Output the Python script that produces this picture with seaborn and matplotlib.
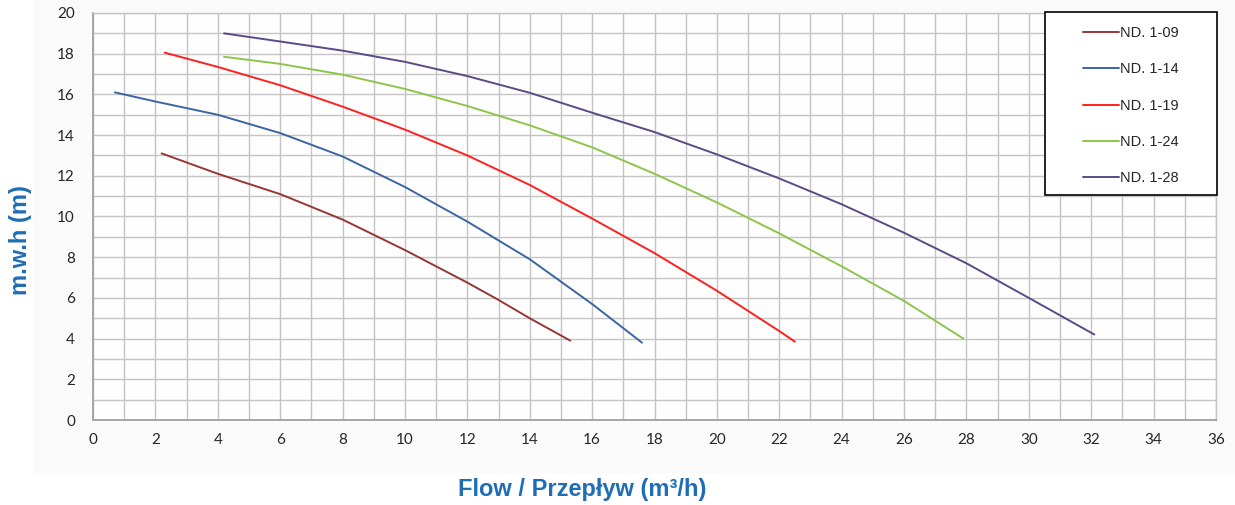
import numpy as np
import pandas as pd
import matplotlib
matplotlib.use("Agg")
import matplotlib.pyplot as plt
from matplotlib.patches import Rectangle
import seaborn as sns

# ------------------------------------------------------------------
# Pump curves (flow m3/h -> head m.w.h)
# ------------------------------------------------------------------
models = ["ND. 1-09", "ND. 1-14", "ND. 1-19", "ND. 1-24", "ND. 1-28"]

flow_09 = [2.2, 4, 6, 8, 10, 12, 13, 14, 15.3]
head_09 = [13.1, 12.1, 11.1, 9.85, 8.35, 6.75, 5.9, 5.0, 3.9]

flow_14 = [0.7, 2, 4, 6, 8, 10, 12, 14, 16, 17.6]
head_14 = [16.1, 15.65, 15.0, 14.1, 12.95, 11.45, 9.75, 7.9, 5.7, 3.8]

flow_19 = [2.3, 4, 6, 8, 10, 12, 14, 16, 18, 20, 22, 22.5]
head_19 = [18.05, 17.35, 16.45, 15.4, 14.27, 13.0, 11.55, 9.9, 8.2, 6.35, 4.37, 3.85]

flow_24 = [4.2, 6, 8, 10, 12, 14, 16, 18, 20, 22, 24, 26, 27.9]
head_24 = [17.85, 17.5, 16.97, 16.27, 15.43, 14.48, 13.4, 12.1, 10.69, 9.17, 7.55, 5.85, 4.0]

flow_28 = [4.2, 6, 8, 10, 12, 14, 16, 18, 20, 22, 24, 26, 28, 30, 32.1]
head_28 = [19.0, 18.6, 18.15, 17.6, 16.9, 16.08, 15.1, 14.15, 13.05, 11.87, 10.6, 9.2, 7.7, 6.0, 4.2]

colors = ["#953735", "#3b66a3", "#ff2020", "#8fc44c", "#5c4a86"]

x_ticks = list(range(0, 37, 2))
y_ticks = list(range(0, 21, 2))

flows = [flow_09, flow_14, flow_19, flow_24, flow_28]
heads = [head_09, head_14, head_19, head_24, head_28]
df = pd.concat(
    [pd.DataFrame({"flow": f, "head": h, "model": m}) for f, h, m in zip(flows, heads, models)],
    ignore_index=True,
)

# ------------------------------------------------------------------
# PLOT
# ------------------------------------------------------------------
sns.set_style("white")
plt.rcParams["font.family"] = ["Lato", "DejaVu Sans"]

fig = plt.figure(figsize=(12.35, 5.05), dpi=100)
# faint grey panel behind the chart area
fig.patches.append(Rectangle((33 / 1235, 1 - 472 / 505), 1 - 33 / 1235, 472 / 505,
                             transform=fig.transFigure, color="#fafafa", zorder=-10))
ax = fig.add_axes([93 / 1235, 1 - 420 / 505, 1123 / 1235, 407 / 505])
ax.set_facecolor("#fefefe")

sns.lineplot(data=df, x="flow", y="head", hue="model", hue_order=models,
             palette=dict(zip(models, colors)), estimator=None, sort=False,
             linewidth=1.4, ax=ax, zorder=3)

ax.set_xlim(0, 36)
ax.set_ylim(0, 20)
ax.set_xticks(x_ticks)
ax.set_yticks(y_ticks)
ax.set_xticks(range(0, 37), minor=True)
ax.set_yticks(range(0, 21), minor=True)
ax.grid(which="both", color="#c4c4c4", linewidth=1.0)
ax.set_axisbelow(True)
for s in ax.spines.values():
    s.set_color("#c4c4c4")
    s.set_linewidth(1.0)
ax.spines["left"].set_color("#a6a6a6")
ax.spines["bottom"].set_color("#a6a6a6")
ax.spines["left"].set_linewidth(1.4)
ax.spines["bottom"].set_linewidth(1.4)

ax.tick_params(axis="both", which="both", length=0, labelsize=11, colors="#262626")
ax.tick_params(axis="y", pad=13)
ax.tick_params(axis="x", pad=9)

label_kw = dict(fontsize=17, fontweight="bold", color="#1f6db4",
                family=["Liberation Sans", "DejaVu Sans"])
ax.set_xlabel("Flow / Przepływ (m³/h)", va="center", **label_kw)
ax.set_ylabel("m.w.h (m)", va="center", **label_kw)
ax.xaxis.set_label_coords(0.436, -0.170)
ax.yaxis.set_label_coords(-0.065, 0.442)

# legend: entries without frame, plus a rectangle box like the reference
leg = ax.legend(loc="upper left", bbox_to_anchor=(0.8816, 0.968), borderaxespad=0,
                borderpad=0, frameon=False, handlelength=2.5, handletextpad=0.05,
                labelspacing=1.53, prop={"family": ["Liberation Sans", "DejaVu Sans"], "size": 10.5})
for line in leg.get_lines():
    line.set_linewidth(1.4)
ax.add_patch(Rectangle((952 / 1123, 225 / 407), 172 / 1123, 183 / 407,
                       transform=ax.transAxes, facecolor="white", edgecolor="black",
                       linewidth=1.2, zorder=4, clip_on=False))
leg.set_zorder(5)

fig.savefig("out.png", dpi=100)
